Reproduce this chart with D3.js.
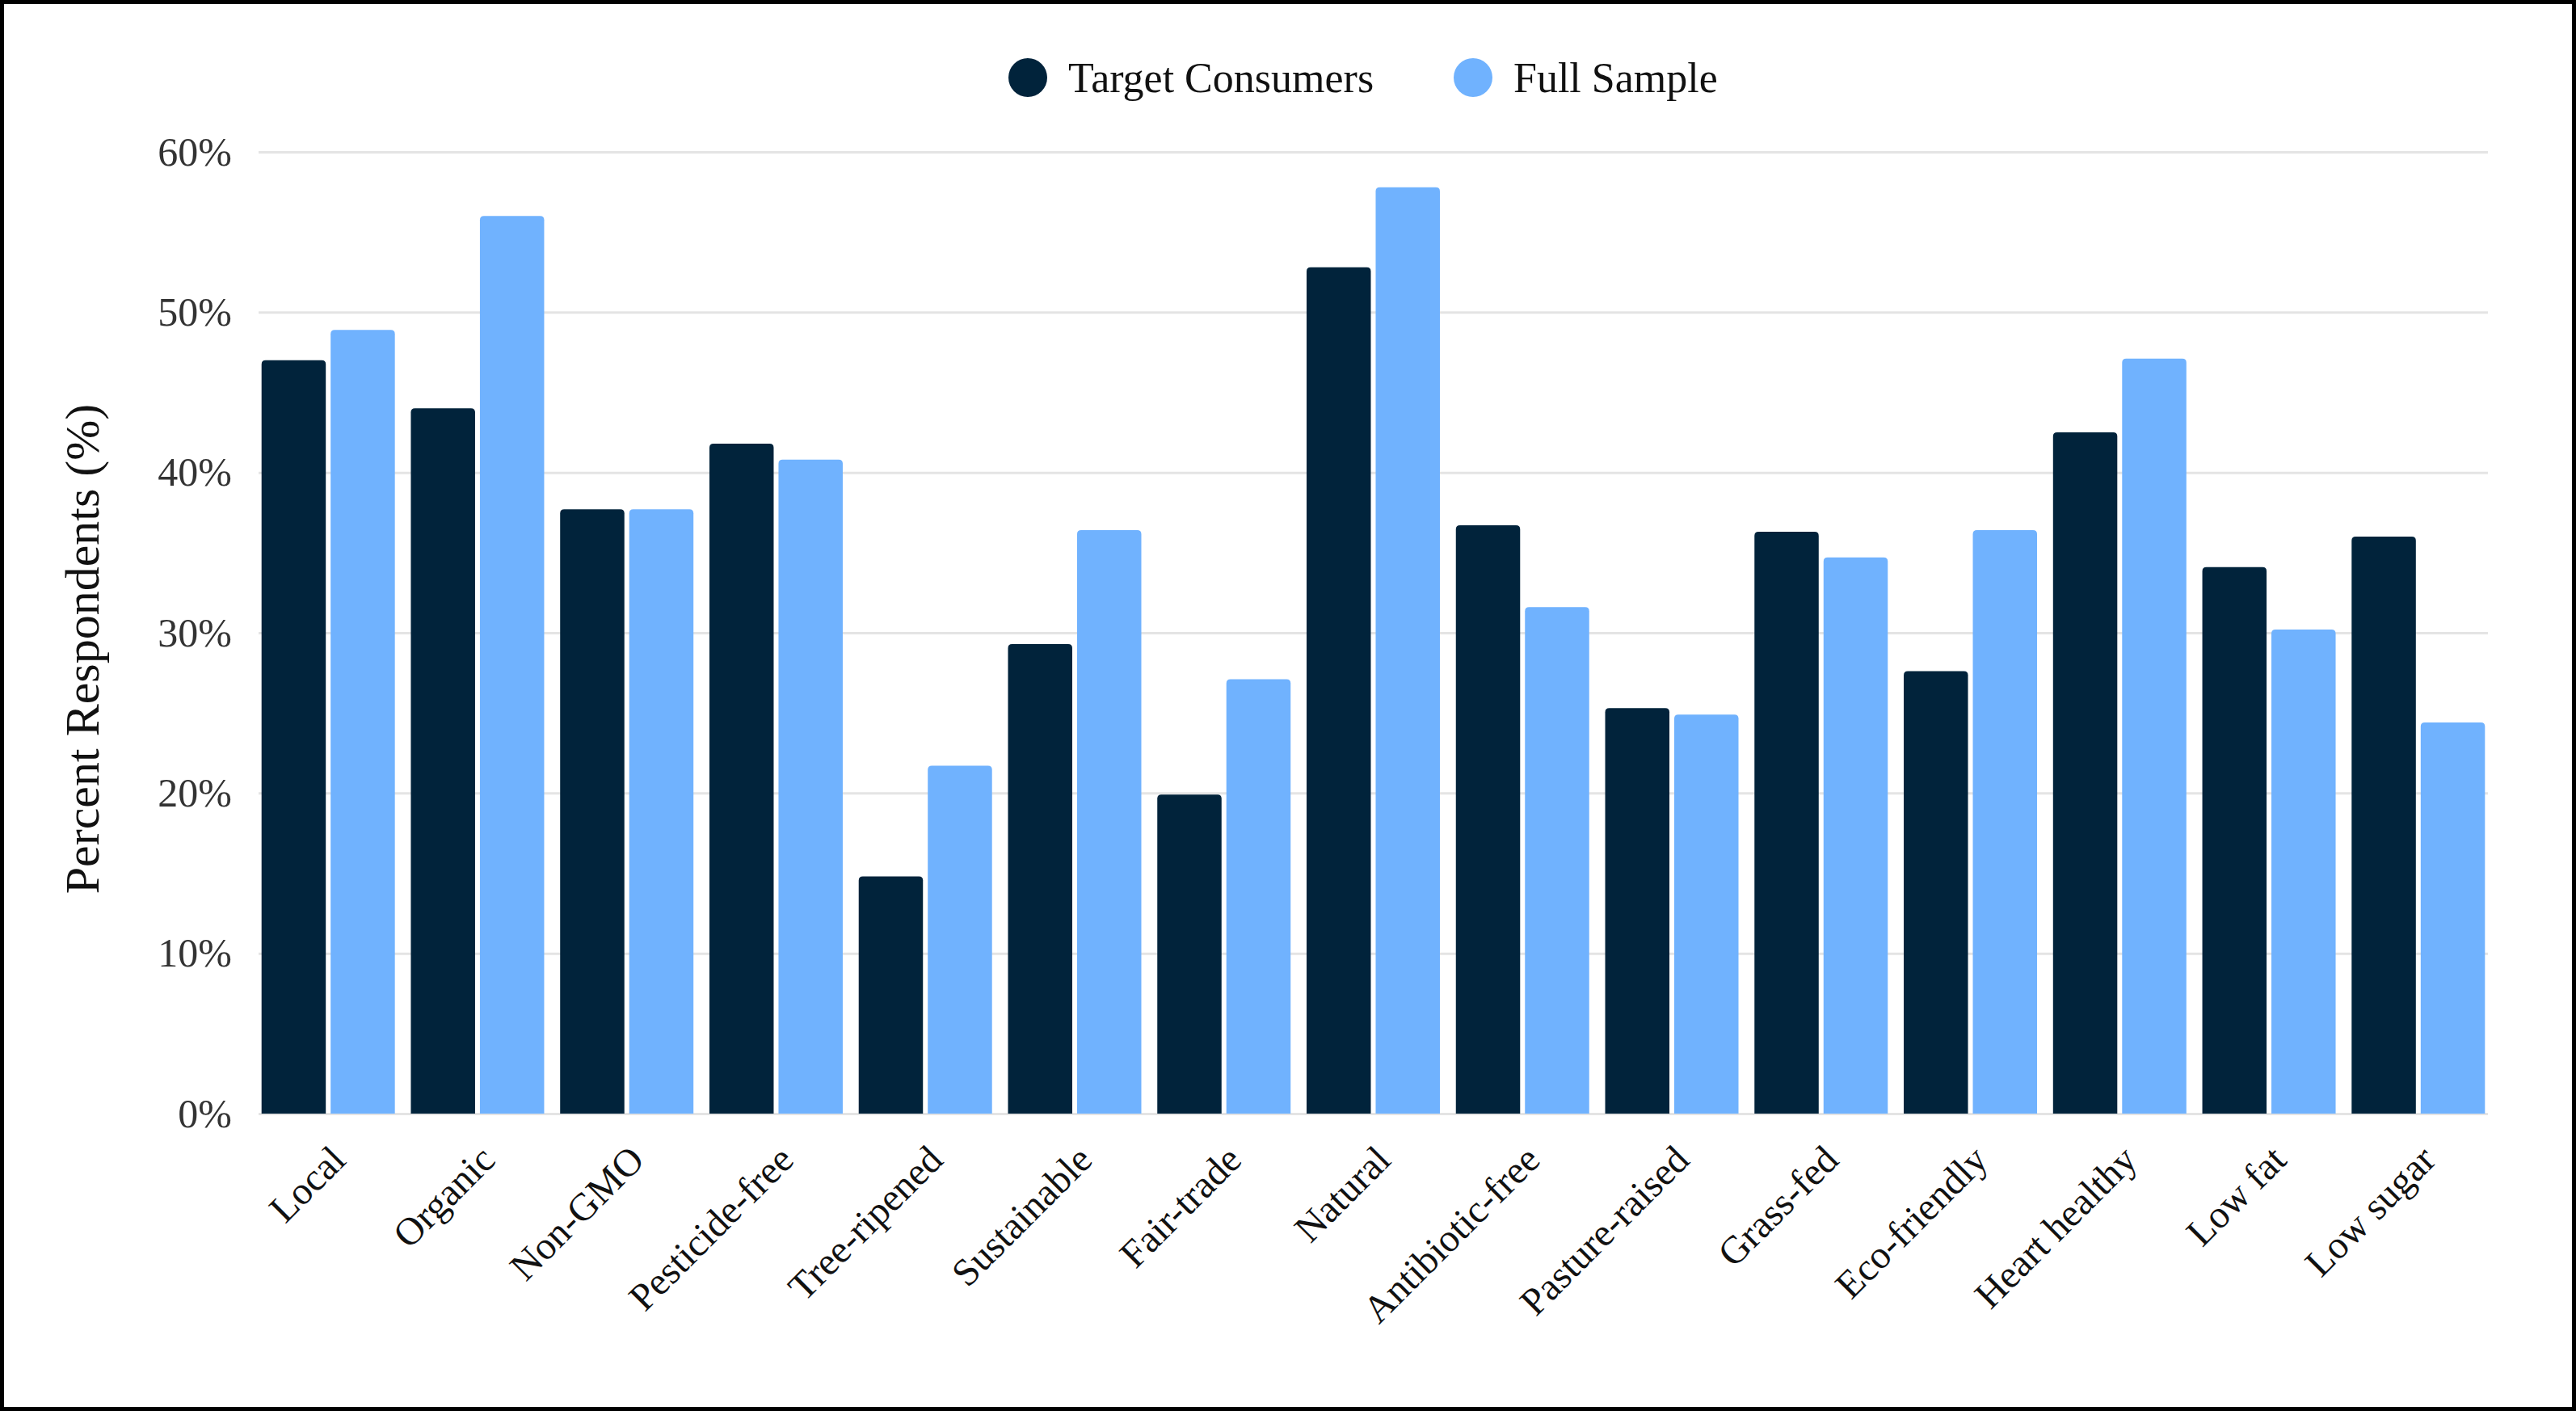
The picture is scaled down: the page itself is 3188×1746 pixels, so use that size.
<!DOCTYPE html>
<html>
<head>
<meta charset="utf-8">
<script src="https://cdn.jsdelivr.net/npm/d3@7"></script>
<style>
  body { margin: 0; background: #fff; }
</style>
</head>
<body>
<div id="chart"></div>
<script>
const categories = [
  'Local', 'Organic', 'Non-GMO', 'Pesticide-free', 'Tree-ripened',
  'Sustainable', 'Fair-trade', 'Natural', 'Antibiotic-free', 'Pasture-raised',
  'Grass-fed', 'Eco-friendly', 'Heart healthy', 'Low fat', 'Low sugar',
]
const seriesNames = ['Target Consumers', 'Full Sample']
const targetConsumers = [47.0, 44.0, 37.7, 41.8, 14.8, 29.3, 19.9, 52.8, 36.7, 25.3, 36.3, 27.6, 42.5, 34.1, 36.0]
const fullSample = [48.9, 56.0, 37.7, 40.8, 21.7, 36.4, 27.1, 57.8, 31.6, 24.9, 34.7, 36.4, 47.1, 30.2, 24.4]
const yTicks = [0, 10, 20, 30, 40, 50, 60]

const width = 3188
const height = 1746
const colors = ['#01233b', '#70b2fe']
const serif = '"Liberation Serif", "Times New Roman", serif'

const plot = { left: 320, right: 3079, top: 188, bottom: 1378 }

const svg = d3
  .select('#chart')
  .append('svg')
  .attr('width', width)
  .attr('height', height)
  .attr('viewBox', `0 0 ${width} ${height}`)

svg.append('rect').attr('width', width).attr('height', height).attr('fill', '#fff')

const x = d3
  .scaleBand()
  .domain(categories)
  .range([plot.left, plot.right])
  .paddingInner(0.107)
  .paddingOuter(0.02)

const xSub = d3
  .scaleBand()
  .domain(seriesNames)
  .range([0, x.bandwidth()])
  .paddingInner(0.07)

const y = d3.scaleLinear().domain([0, 60]).range([plot.bottom, plot.top])

// gridlines + y tick labels
const yAxis = svg
  .append('g')
  .attr('transform', `translate(${plot.left},0)`)
  .call(
    d3
      .axisLeft(y)
      .tickValues(yTicks)
      .tickFormat((d) => d + '%')
      .tickSizeInner(-(plot.right - plot.left))
      .tickSizeOuter(0)
      .tickPadding(33)
  )
yAxis.select('.domain').remove()
yAxis.selectAll('line').attr('stroke', '#e4e4e4').attr('stroke-width', 3)
yAxis
  .selectAll('text')
  .attr('font-family', serif)
  .attr('font-size', 50)
  .attr('fill', '#333')

// y title
svg
  .append('text')
  .attr('transform', `translate(122, ${(plot.top + plot.bottom) / 2 + 20}) rotate(-90)`)
  .attr('text-anchor', 'middle')
  .attr('font-family', serif)
  .attr('font-size', 60)
  .attr('fill', '#111')
  .text('Percent Respondents (%)')

// bars with rounded tops
function barPath(x0, w, yTop, yBase, r) {
  const rr = Math.min(r, w / 2, yBase - yTop)
  return `M${x0},${yBase}V${yTop + rr}Q${x0},${yTop} ${x0 + rr},${yTop}` +
    `H${x0 + w - rr}Q${x0 + w},${yTop} ${x0 + w},${yTop + rr}V${yBase}Z`
}

const rows = categories.map((c, i) => ({
  category: c,
  values: [
    { series: seriesNames[0], value: targetConsumers[i] },
    { series: seriesNames[1], value: fullSample[i] },
  ],
}))

const groups = svg
  .append('g')
  .attr('class', 'bars')
  .selectAll('g')
  .data(rows)
  .join('g')
  .attr('transform', (d) => `translate(${x(d.category)},0)`)

groups
  .selectAll('path')
  .data((d) => d.values)
  .join('path')
  .attr('d', (d) => barPath(xSub(d.series), xSub.bandwidth(), y(d.value), y(0), 5))
  .attr('fill', (d, i) => colors[i])

// x labels
const xAxis = svg
  .append('g')
  .attr('transform', `translate(0,${plot.bottom})`)
  .call(d3.axisBottom(x).tickSize(0))
xAxis.select('.domain').remove()
xAxis
  .selectAll('text')
  .attr('x', 0)
  .attr('y', 0)
  .attr('dy', 0)
  .attr('text-anchor', 'end')
  .attr('transform', 'translate(24,60) rotate(-45)')
  .attr('font-family', serif)
  .attr('font-size', 48)
  .attr('fill', '#111')

// legend
const legendX = [1272, 1823]
const legend = svg
  .append('g')
  .selectAll('g')
  .data(seriesNames)
  .join('g')
  .attr('transform', (d, i) => `translate(${legendX[i]},96)`)
legend
  .append('circle')
  .attr('r', 24)
  .attr('fill', (d, i) => colors[i])
legend
  .append('text')
  .attr('x', 50)
  .attr('dy', '0.35em')
  .attr('font-family', serif)
  .attr('font-size', 52)
  .attr('fill', '#111')
  .text((d) => d)

// frame
svg
  .append('rect')
  .attr('x', 2.5)
  .attr('y', 2.5)
  .attr('width', width - 5)
  .attr('height', height - 5)
  .attr('fill', 'none')
  .attr('stroke', '#000')
  .attr('stroke-width', 5)
</script>
</body>
</html>
